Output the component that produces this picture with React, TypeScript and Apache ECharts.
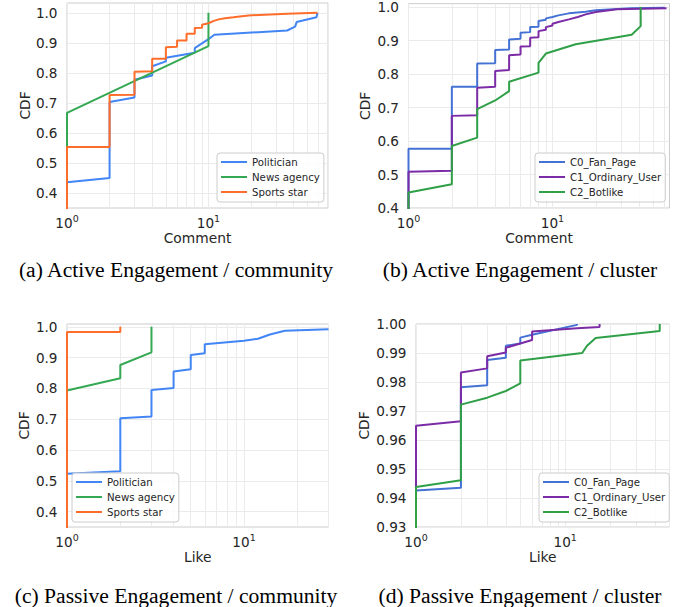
import React, { useEffect, useRef } from 'react';
import * as echarts from 'echarts';

// ---------- data (x = count, y = CDF) ----------
// (a) Active Engagement / community — Comment
const aPolitician = [[1, 0], [1, 0.436], [2, 0.45], [2, 0.703], [3, 0.718], [3, 0.777], [4, 0.791], [4, 0.822], [5, 0.838], [5, 0.85], [8, 0.867], [8, 0.882], [10, 0.912], [11, 0.927], [36, 0.941], [41, 0.954], [42, 0.969], [58, 0.985], [59, 1.0]];
const aNews = [[1, 0], [1, 0.667], [10, 0.889], [10, 1.0]];
const aSports = [[1, 0], [1, 0.553], [2, 0.553], [2, 0.726], [3, 0.727], [3, 0.804], [4, 0.805], [4, 0.847], [5, 0.847], [5, 0.885], [6, 0.887], [6, 0.908], [7, 0.908], [7, 0.93], [8, 0.93], [8, 0.949], [9, 0.95], [9, 0.96], [10, 0.965], [10.8, 0.972], [11.8, 0.978], [13.1, 0.982], [15, 0.985], [19.2, 0.991], [36, 0.997], [59, 1.0]];

// (b) Active Engagement / cluster — Comment
const bFan = [[1, 0], [1, 0.577], [2, 0.577], [2, 0.762], [3, 0.762], [3, 0.831], [4, 0.832], [4, 0.872], [5, 0.873], [5, 0.903], [6, 0.905], [6, 0.923], [7, 0.925], [7, 0.94], [8, 0.941], [8, 0.958], [9, 0.962], [9, 0.966], [10, 0.97], [11, 0.975], [13, 0.981], [17, 0.986], [20, 0.99], [35, 0.996], [60, 0.998]];
const bOrdinary = [[1, 0], [1, 0.508], [2, 0.511], [2, 0.675], [3, 0.677], [3, 0.759], [4, 0.762], [4, 0.809], [5, 0.812], [5, 0.856], [6, 0.858], [6, 0.882], [7, 0.883], [7, 0.908], [8, 0.91], [8, 0.928], [9, 0.932], [9, 0.94], [10, 0.945], [10, 0.95], [11, 0.955], [13, 0.963], [15, 0.97], [17, 0.978], [20, 0.985], [28, 0.993], [62, 0.996]];
const bBotlike = [[1, 0], [1, 0.446], [2, 0.471], [2, 0.585], [3, 0.61], [3, 0.695], [4, 0.721], [5, 0.749], [5, 0.777], [8, 0.804], [8, 0.833], [9, 0.861], [14.5, 0.889], [35.5, 0.917], [41, 0.943], [41, 1.0]];

// (c) Passive Engagement / community — Like
const cPolitician = [[1, 0], [1, 0.523], [2, 0.531], [2, 0.703], [3, 0.709], [3, 0.795], [4, 0.801], [4, 0.855], [5, 0.862], [5, 0.908], [6, 0.914], [6, 0.943], [10, 0.955], [12, 0.961], [14, 0.975], [17, 0.987], [30, 0.992]];
const cNews = [[1, 0], [1, 0.793], [2, 0.833], [2, 0.876], [3, 0.917], [3, 1.0]];
const cSports = [[1, 0], [1, 0.983], [2, 0.983], [2, 1.0]];

// (d) Passive Engagement / cluster — Like
const dFan = [[1, 0], [1, 0.9426], [2, 0.9435], [2, 0.9782], [3, 0.9789], [3, 0.9876], [4, 0.9884], [4, 0.9925], [5, 0.9933], [5, 0.9953], [6, 0.9963], [12, 0.9997], [12, 1.0]];
const dOrdinary = [[1, 0], [1, 0.9649], [2, 0.9665], [2, 0.9833], [3, 0.9847], [3, 0.9889], [4, 0.9902], [4, 0.9918], [5, 0.9933], [6, 0.9945], [6, 0.9974], [12, 0.9985], [17, 0.999], [17, 1.0]];
const dBotlike = [[1, 0], [1, 0.9438], [2, 0.9461], [2, 0.9722], [3, 0.9746], [4, 0.9769], [5, 0.9795], [5, 0.9874], [13, 0.99], [14, 0.9925], [16, 0.9952], [43, 0.9976], [43, 1.0]];

// ---------- ticks / labels ----------
const yTicksMain = [0.4, 0.5, 0.6, 0.7, 0.8, 0.9, 1.0];
const yTicksD = [0.93, 0.94, 0.95, 0.96, 0.97, 0.98, 0.99, 1.0];
const xGridValues = [1, 2, 3, 4, 5, 6, 7, 8, 9, 10, 20, 30, 40, 50, 60, 70];
const xLabelValues = [1, 10];
const communityNames = ['Politician', 'News agency', 'Sports star'];
const clusterNames = ['C0_Fan_Page', 'C1_Ordinary_User', 'C2_Botlike'];
const communityColors = ['#4285F4', '#34A853', '#FF6D2B'];
const clusterColors = ['#4472D4', '#7B2BA6', '#2FA048'];
const captions = [
  '(a) Active Engagement / community',
  '(b) Active Engagement / cluster',
  '(c) Passive Engagement / community',
  '(d) Passive Engagement / cluster',
];

const TXT = '#262626';
const FONT = 'DejaVu Sans';
const GRIDLINE = '#EBEBEB';

function makeX(gridIndex: number, max: number, name: string, nameGap: number) {
  return {
    type: 'log',
    logBase: 10,
    gridIndex,
    min: 1,
    max,
    name,
    nameLocation: 'middle',
    nameGap,
    nameTextStyle: { color: TXT, fontFamily: FONT, fontSize: 13.8 },
    axisLine: { show: false },
    axisTick: { show: false, customValues: xGridValues.filter((v) => v <= max) },
    axisLabel: {
      customValues: xLabelValues,
      margin: 5,
      formatter: (v: number) => `{b|10}{s|${Math.round(Math.log10(v))}}`,
      rich: {
        b: { fontSize: 13.6, color: TXT, fontFamily: FONT, lineHeight: 17, verticalAlign: 'bottom' },
        s: { fontSize: 9.5, color: TXT, fontFamily: FONT, lineHeight: 17, verticalAlign: 'top' },
      },
    },
    splitLine: { show: true, lineStyle: { color: GRIDLINE, width: 1 } },
  };
}

function makeY(gridIndex: number, min: number, max: number, ticks: number[], dec: number, nameGap: number) {
  return {
    type: 'value',
    gridIndex,
    min,
    max,
    name: 'CDF',
    nameLocation: 'middle',
    nameGap,
    nameRotate: 90,
    nameTextStyle: { color: TXT, fontFamily: FONT, fontSize: 13.8 },
    axisLine: { show: false },
    axisTick: { show: false, customValues: ticks },
    axisLabel: {
      customValues: ticks,
      margin: 9.5,
      color: TXT,
      fontFamily: FONT,
      fontSize: 13.6,
      formatter: (v: number) => v.toFixed(dec),
    },
    splitLine: { show: true, lineStyle: { color: GRIDLINE, width: 1 } },
  };
}

function makeSeries(names: string[], colors: string[], data: number[][][], idx: number) {
  return names.map((n, i) => ({
    type: 'line',
    name: n,
    xAxisIndex: idx,
    yAxisIndex: idx,
    data: data[i],
    showSymbol: false,
    symbol: 'none',
    clip: true,
    lineStyle: { color: colors[i], width: 2 },
    itemStyle: { color: colors[i] },
    z: 2 + i,
  }));
}

function makeLegend(names: string[], left: number, top: number) {
  return {
    data: names,
    orient: 'vertical',
    left,
    top,
    icon: 'rect',
    itemWidth: 26,
    itemHeight: 2,
    itemGap: 3,
    padding: [3, 4, 4, 4],
    backgroundColor: 'rgba(255,255,255,0.85)',
    borderColor: '#CCCCCC',
    borderWidth: 1,
    borderRadius: 3,
    selectedMode: false,
    textStyle: { color: TXT, fontFamily: FONT, fontSize: 10.2, lineHeight: 12 },
  };
}

export default function App() {
  const ref = useRef<HTMLDivElement>(null);
  useEffect(() => {
    if (!ref.current) return;
    const chart = echarts.init(ref.current, undefined, { renderer: 'svg' });
    const captionPos = [
      [176, 259],
      [520, 259],
      [176, 585],
      [520, 585],
    ];
    const option = {
      animation: false,
      backgroundColor: '#ffffff',
      grid: [
        { left: 67, top: 3, width: 261, height: 205, show: true, borderColor: '#CCCCCC', borderWidth: 1, backgroundColor: 'transparent' },
        { left: 408.5, top: 3, width: 261, height: 205, show: true, borderColor: '#CCCCCC', borderWidth: 1, backgroundColor: 'transparent' },
        { left: 67, top: 324, width: 261.5, height: 203, show: true, borderColor: '#CCCCCC', borderWidth: 1, backgroundColor: 'transparent' },
        { left: 416, top: 324, width: 253.5, height: 203, show: true, borderColor: '#CCCCCC', borderWidth: 1, backgroundColor: 'transparent' },
      ],
      xAxis: [
        makeX(0, 70, 'Comment', 23),
        makeX(1, 65, 'Comment', 23),
        makeX(2, 30, 'Like', 23),
        makeX(3, 50, 'Like', 23),
      ],
      yAxis: [
        makeY(0, 0.35, 1.0325, yTicksMain, 1, 35),
        makeY(1, 0.4, 1.01, yTicksMain, 1, 37),
        makeY(2, 0.35, 1.009, yTicksMain, 1, 36),
        makeY(3, 0.93, 1.0, yTicksD, 2, 45),
      ],
      legend: [
        makeLegend(communityNames, 217, 153),
        makeLegend(clusterNames, 535, 153),
        makeLegend(communityNames, 72, 473),
        makeLegend(clusterNames, 539, 473),
      ],
      series: [
        ...makeSeries(communityNames, communityColors, [aPolitician, aNews, aSports], 0),
        ...makeSeries(clusterNames, clusterColors, [bFan, bOrdinary, bBotlike], 1),
        ...makeSeries(communityNames, communityColors, [cPolitician, cNews, cSports], 2),
        ...makeSeries(clusterNames, clusterColors, [dFan, dOrdinary, dBotlike], 3),
      ],
      graphic: captions.map((t, i) => ({
        type: 'text',
        x: captionPos[i][0],
        y: captionPos[i][1],
        style: {
          text: t,
          fill: '#000000',
          fontFamily: 'Liberation Serif',
          fontSize: 21.6,
          align: 'center',
          textAlign: 'center',
          verticalAlign: 'top',
        },
      })),
    };
    chart.setOption(option as any);
    return () => chart.dispose();
  }, []);
  return <div ref={ref} style={{ position: 'fixed', left: 0, top: 0, width: 685, height: 607 }} />;
}
